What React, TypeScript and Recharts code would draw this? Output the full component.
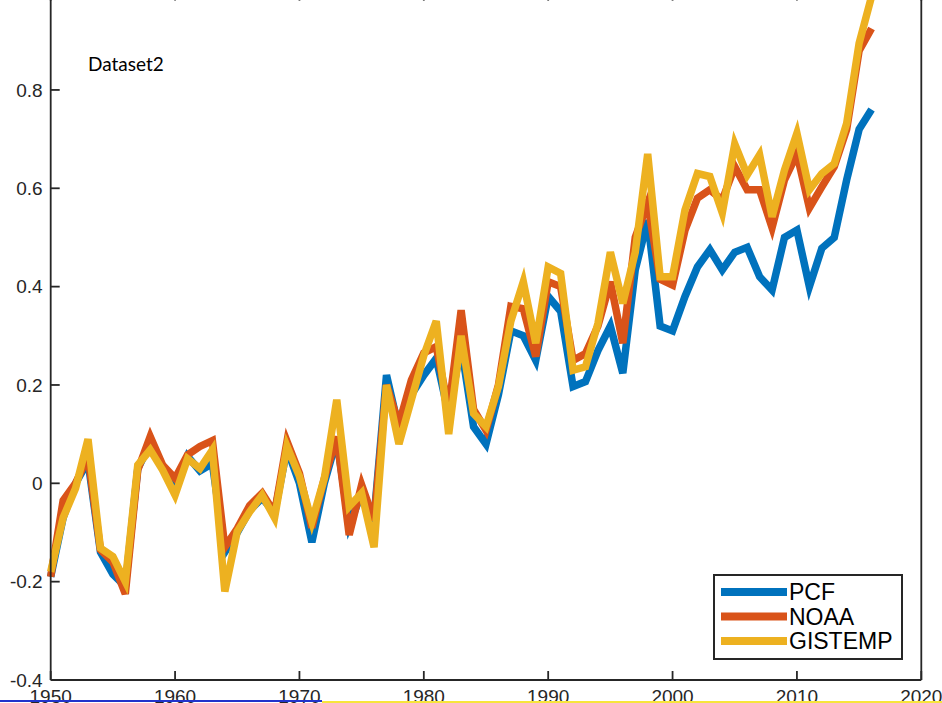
import React from "react";
import { LineChart, Line, XAxis, YAxis, Legend } from "recharts";

// annual anomalies, 1950-2016
const years = Array.from({ length: 67 }, (_, i) => 1950 + i);

const pcf = [
  -0.19, -0.07, 0.0, 0.045, -0.14, -0.185, -0.21, 0.03, 0.08, 0.03,
  -0.01, 0.055, 0.025, 0.04, -0.14, -0.1, -0.055, -0.03, -0.06, 0.07,
  0.0, -0.12, 0.0, 0.09, -0.085, -0.02, -0.07, 0.22, 0.11, 0.18,
  0.22, 0.254, 0.14, 0.28, 0.115, 0.08, 0.18, 0.31, 0.3, 0.25,
  0.38, 0.35, 0.197, 0.207, 0.27, 0.32, 0.224, 0.434, 0.535, 0.32,
  0.31, 0.38, 0.44, 0.475, 0.434, 0.47, 0.48, 0.42, 0.393, 0.5,
  0.515, 0.4, 0.478, 0.5, 0.617, 0.72, 0.76,
];

const noaa = [
  -0.19, -0.035, 0.0, 0.055, -0.135, -0.16, -0.225, 0.027, 0.095, 0.037,
  0.01, 0.058, 0.075, 0.087, -0.13, -0.092, -0.045, -0.02, -0.06, 0.085,
  0.02, -0.09, 0.01, 0.095, -0.105, -0.003, -0.075, 0.2, 0.12, 0.21,
  0.265, 0.278, 0.15, 0.352, 0.15, 0.108, 0.2, 0.36, 0.355, 0.258,
  0.41, 0.4, 0.25, 0.264, 0.32, 0.41, 0.285, 0.5, 0.57, 0.415,
  0.403, 0.515, 0.58, 0.597, 0.576, 0.644, 0.597, 0.597, 0.52, 0.617,
  0.67, 0.56, 0.603, 0.644, 0.72, 0.88, 0.925,
];

const gistemp = [
  -0.18, -0.07, -0.01, 0.09, -0.132, -0.149, -0.2, 0.037, 0.068, 0.027,
  -0.024, 0.05, 0.03, 0.068, -0.22, -0.098, -0.058, -0.024, -0.07, 0.075,
  0.014, -0.078, 0.01, 0.17, -0.047, -0.02, -0.13, 0.2, 0.08, 0.17,
  0.26, 0.33, 0.1, 0.3, 0.142, 0.115, 0.197, 0.33, 0.41, 0.285,
  0.44, 0.427, 0.23, 0.237, 0.325, 0.47, 0.366, 0.47, 0.67, 0.42,
  0.42, 0.556, 0.63, 0.624, 0.55, 0.69, 0.627, 0.668, 0.542, 0.637,
  0.712, 0.597, 0.63, 0.65, 0.732, 0.895, 0.99,
];

const xTicks = [1950, 1960, 1970, 1980, 1990, 2000, 2010, 2020];
const yTicks = [-0.4, -0.2, 0, 0.2, 0.4, 0.6, 0.8, 1];

const SERIES = [
  { key: "PCF", color: "#0072BD" },
  { key: "NOAA", color: "#D95319" },
  { key: "GISTEMP", color: "#EDB120" },
];

const data = years.map((year, i) => ({
  year,
  PCF: pcf[i],
  NOAA: noaa[i],
  GISTEMP: gistemp[i],
}));

const AXIS = "#262626";
const axisLine = { stroke: AXIS, strokeWidth: 1.8 };
const tickFont = { fill: AXIS, fontSize: 19, fontFamily: "Liberation Sans, Arial, sans-serif" };
const blank = () => "";

// boxed legend, always in plotting order
const LegendBox = () => (
  <svg width={190} height={86} style={{ display: "block" }}>
    <rect x={1} y={1} width={188} height={84} fill="#fff" stroke={AXIS} strokeWidth={2} />
    {SERIES.map((s, i) => {
      const cy = 18 + i * 24.5;
      return (
        <g key={s.key}>
          <line x1={8} x2={74} y1={cy} y2={cy} stroke={s.color} strokeWidth={8} />
          <text
            x={76}
            y={cy + 8.2}
            fontSize={23}
            fontFamily="Liberation Sans, Arial, sans-serif"
            fill="#000"
          >
            {s.key}
          </text>
        </g>
      );
    })}
  </svg>
);

export default function App() {
  return (
    <div
      style={{
        position: "absolute",
        left: 0,
        top: 0,
        width: 942,
        height: 703,
        overflow: "hidden",
        background: "#fff",
      }}
    >
      <div style={{ position: "absolute", left: 0, top: -20 }}>
        <LineChart
          width={942}
          height={740}
          data={data}
          margin={{ top: 1.6, right: 10.7, bottom: 10, left: 5.7 }}
        >
          <XAxis
            xAxisId="bottom"
            dataKey="year"
            type="number"
            domain={[1950, 2020]}
            ticks={xTicks}
            interval={0}
            height={30}
            axisLine={axisLine}
            tickLine={axisLine}
            tickSize={-9}
            tickMargin={19}
            tick={tickFont}
          />
          <XAxis
            xAxisId="top"
            orientation="top"
            dataKey="year"
            type="number"
            domain={[1950, 2020]}
            ticks={xTicks}
            interval={0}
            height={10}
            axisLine={axisLine}
            tickLine={axisLine}
            tickSize={-9}
            tickFormatter={blank}
          />
          <YAxis
            yAxisId="left"
            type="number"
            domain={[-0.4, 1]}
            ticks={yTicks}
            interval={0}
            width={45}
            axisLine={axisLine}
            tickLine={axisLine}
            tickSize={-9}
            tickMargin={17}
            tick={tickFont}
          />
          <YAxis
            yAxisId="right"
            orientation="right"
            type="number"
            domain={[-0.4, 1]}
            ticks={yTicks}
            interval={0}
            width={10}
            axisLine={axisLine}
            tickLine={axisLine}
            tickSize={-9}
            tickFormatter={blank}
          />
          {SERIES.map((s) => (
            <Line
              key={s.key}
              xAxisId="bottom"
              yAxisId="left"
              dataKey={s.key}
              type="linear"
              stroke={s.color}
              strokeWidth={7.5}
              dot={false}
              isAnimationActive={false}
            />
          ))}
          <Legend
            layout="vertical"
            align="center"
            verticalAlign="middle"
            content={<LegendBox />}
            wrapperStyle={{ left: 712.7, top: 594, width: 190, height: 86 }}
          />
        </LineChart>
      </div>
      <svg
        width={942}
        height={703}
        style={{ position: "absolute", left: 0, top: 0, pointerEvents: "none" }}
      >
        <text x={88} y={71} fontSize={19} fontFamily="Lato, sans-serif" fill="#000">
          Dataset2
        </text>
        <rect x={0} y={700} width={322} height={2} fill="#2233cc" />
        <rect x={322} y={701} width={620} height={2} fill="#f7e53b" />
      </svg>
    </div>
  );
}
